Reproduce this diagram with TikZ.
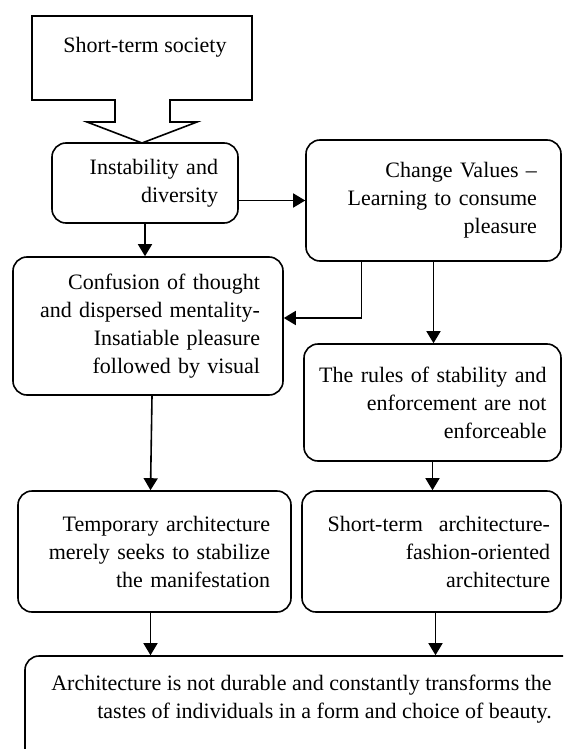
\documentclass[tikz,border=0pt]{standalone}
\usepackage{fontspec}
\setmainfont{Liberation Serif}
\usetikzlibrary{arrows.meta,calc}

\begin{document}
\begin{tikzpicture}[x=0.5pt,y=-0.5pt]
\tikzstyle{box} = [draw, rounded corners=7pt, line width=0.8pt, align=right, inner sep=0pt, font=\fontsize{11}{14}\selectfont]
\tikzstyle{txt} = [align=right, inner sep=0pt, font=\fontsize{11}{14}\selectfont]
\tikzstyle{arr} = [-{Triangle[width=7pt,length=6pt]}, line width=0.8pt]
\useasboundingbox[fill=white] (0,0) rectangle (563,749);
\clip (0,0) rectangle (563,749);
% callout on top
\draw[line width=0.8pt] (32,16) -- (252,16) -- (252,100) -- (170,100) -- (170,122) -- (197,122)
    -- (142,143) -- (87,122) -- (115,122) -- (115,100) -- (32,100) -- cycle;
\node[txt] (soc) at (145,47) {Short-term society};
% boxes
\node[box, minimum width=93pt, minimum height=40pt, text width=73pt] (inst) at (145,183) {Instability and\\ diversity};
\node[box, minimum width=127.5pt, minimum height=60.5pt, text width=103.5pt] (chg) at (433.5,200.5) {Change Values --\\ Learning to consume\\ pleasure};
\node[box, minimum width=135pt, minimum height=69pt, text width=112pt] (conf) at (148,326) {Confusion of thought\\ and dispersed mentality-\\ Insatiable pleasure\\ followed by visual};
\node[box, minimum width=128.5pt, minimum height=58.5pt, text width=114pt] (rules) at (432.5,402.5) {The rules of stability and\\ enforcement are not\\ enforceable};
\node[box, minimum width=136.5pt, minimum height=60.5pt, text width=115.5pt] (temp) at (154.5,551.5) {Temporary architecture\\ merely seeks to stabilize\\ the manifestation};
\node[box, minimum width=129.5pt, minimum height=60.5pt, text width=118.5pt] (sta) at (431.5,551.5) {Short-term\hspace{8pt}architecture-\\ fashion-oriented\\ architecture};
\node[box, minimum width=290pt, minimum height=80pt] (last) at (315,736) {};
\node[txt] (lasttext) at (301.5,699.5) {Architecture is not durable and constantly transforms the\\ tastes of individuals in a form and choice of beauty.};
% connectors
\draw[arr] (inst.east |- chg.west) -- (chg.west);
\draw[arr] (inst.south) -- (inst.south |- conf.north);
\draw[arr] ($(chg.south)+(-72,0)$) |- ([yshift=4pt]conf.east);
\draw[arr] (chg.south) -- (chg.south |- rules.north);
\draw[arr] ([xshift=2pt]conf.south) -- ([xshift=-2pt]temp.north);
\draw[arr] (rules.south) -- (rules.south |- sta.north);
\draw[arr] ([xshift=-2pt]temp.south) -- ([xshift=-2pt]temp.south |- last.north);
\draw[arr] ([xshift=2pt]sta.south) -- ([xshift=2pt]sta.south |- last.north);
\end{tikzpicture}
\end{document}
